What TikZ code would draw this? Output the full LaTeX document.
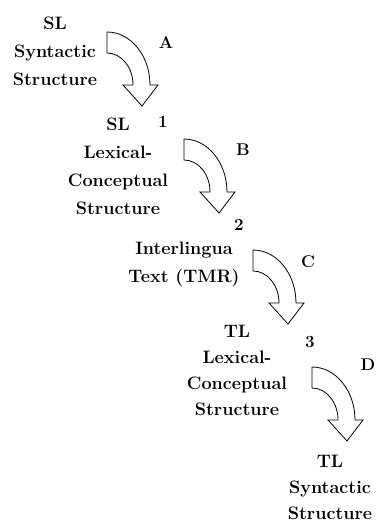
\documentclass[tikz,border=0pt]{standalone}
\usepackage{fontspec}
\begin{document}
\begin{tikzpicture}[x=1pt,y=-1pt,
  lbl/.style={font=\fontsize{18}{28}\selectfont\bfseries, align=center, inner sep=0pt},
  lbltight/.style={lbl, font=\fontsize{18}{26}\selectfont\bfseries},
  tag/.style={font=\fontsize{17}{17}\selectfont\bfseries, inner sep=0pt},
  bent/.pic={\draw[line width=0.8pt, line join=miter]
      (0,0) .. controls (23.7,0) and (43,23.7) .. (43,53)
      -- (51,53) -- (35,74) -- (16,53) -- (26,53)
      .. controls (26,35.3) and (14.4,21) .. (0,21) -- cycle;}]
\useasboundingbox (0,0) rectangle (377,525);

% text blocks
\node[lbl] (slsyn) at (55,51) {SL\\Syntactic\\Structure};
\node[lbl] (sllcs) at (118,166.5) {SL\\Lexical-\\Conceptual\\Structure};
\node[lbl] (il) at (184,265) {Interlingua\\Text (TMR)};
\node[lbltight] (tllcs) at (237,370) {TL\\Lexical-\\Conceptual\\Structure};
\node[lbltight] (tlsyn) at (330,487) {TL\\Syntactic\\Structure};

% curved arrows
\coordinate (arrA) at (107,32);
\coordinate (arrB) at (184,139);
\coordinate (arrC) at (253,250);
\coordinate (arrD) at (312,367);
\pic at (arrA) {bent};
\pic at (arrB) {bent};
\pic at (arrC) {bent};
\pic at (arrD) {bent};

% step letters
\node[tag] (tA) at (166,43) {A};
\node[tag] (tB) at (243,150) {B};
\node[tag] (tC) at (308,262) {C};
\node[tag] (tD) at (368,365) {D};

% stage numbers
\node[tag] (n1) at (163,122) {1};
\node[tag] (n2) at (239,225) {2};
\node[tag] (n3) at (310,342) {3};
\end{tikzpicture}
\end{document}
